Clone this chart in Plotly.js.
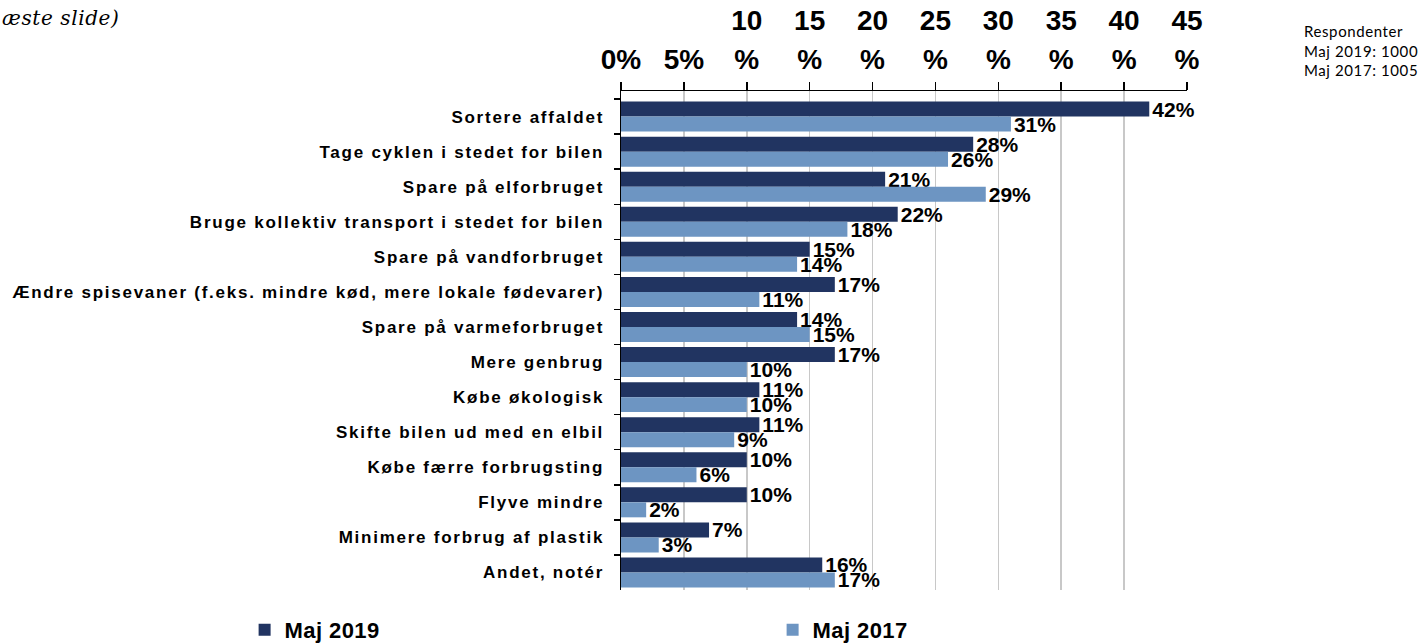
<!DOCTYPE html>
<html>
<head>
<meta charset="utf-8">
<script src="https://cdn.plot.ly/plotly-3.0.1.min.js"></script>
<style>
html, body { margin: 0; padding: 0; background: #fff; }
#chart { width: 1426px; height: 643px; }
.ytick text { letter-spacing: 1.75px; }
.annotation-text { letter-spacing: 0.6px; }
.legendtext { letter-spacing: 0.4px; }
</style>
</head>
<body>
<div id="chart"></div>
<script>
const categories = [
  "Sortere affaldet",
  "Tage cyklen i stedet for bilen",
  "Spare på elforbruget",
  "Bruge kollektiv transport i stedet for bilen",
  "Spare på vandforbruget",
  "Ændre spisevaner (f.eks. mindre kød, mere lokale fødevarer)",
  "Spare på varmeforbruget",
  "Mere genbrug",
  "Købe økologisk",
  "Skifte bilen ud med en elbil",
  "Købe færre forbrugsting",
  "Flyve mindre",
  "Minimere forbrug af plastik",
  "Andet, notér"
];
const maj2019 = [42, 28, 21, 22, 15, 17, 14, 17, 11, 11, 10, 10, 7, 16];
const maj2017 = [31, 26, 29, 18, 14, 11, 15, 10, 10, 9, 6, 2, 3, 17];
const tickVals = [0, 5, 10, 15, 20, 25, 30, 35, 40, 45];
// tick labels wrap: number on upper row, "%" on lower row (short ones on one row)
const tickLabelsLower = ["0%", "5%", "%", "%", "%", "%", "%", "%", "%", "%"];
const tickLabelsUpper = ["", "", "10", "15", "20", "25", "30", "35", "40", "45"];
const seriesNames = ["Maj 2019", "Maj 2017"];
const respondentText = "Respondenter<br>Maj 2019: 1000<br>Maj 2017: 1005";
const noteText = "æste slide)";

const arial = "Arial, 'Liberation Sans', sans-serif";
const labelFont = {family: arial, size: 21, color: "#000", weight: "bold"};
const tickFont = {family: arial, size: 28, color: "#000", weight: "bold"};

const traces = [
  {
    type: "bar", orientation: "h", name: seriesNames[0],
    y: categories, x: maj2019,
    marker: {color: "#213461"},
    text: maj2019.map(v => v + "%"), textposition: "outside",
    textfont: labelFont, constraintext: "none", cliponaxis: false,
    hoverinfo: "skip"
  },
  {
    type: "bar", orientation: "h", name: seriesNames[1],
    y: categories, x: maj2017,
    marker: {color: "#6D95C2"},
    text: maj2017.map(v => v + "%"), textposition: "outside",
    textfont: labelFont, constraintext: "none", cliponaxis: false,
    hoverinfo: "skip"
  },
  {
    type: "scatter", x: [], y: [], xaxis: "x2", yaxis: "y",
    showlegend: false, hoverinfo: "skip"
  }
];

const layout = {
  width: 1426, height: 643,
  margin: {l: 621, r: 239, t: 91, b: 53, pad: 0, autoexpand: false},
  paper_bgcolor: "#fff", plot_bgcolor: "#fff",
  barmode: "group", bargap: 0.145, bargroupgap: 0,
  showlegend: true,
  legend: {
    orientation: "h", xref: "paper", yref: "paper",
    x: -0.665, xanchor: "left", y: -0.08, yanchor: "middle",
    entrywidth: 483, entrywidthmode: "pixels",
    font: {family: arial, size: 22, color: "#000", weight: "bold"},
    traceorder: "normal", itemwidth: 30
  },
  xaxis: {
    side: "top", range: [0, 45], tickvals: tickVals, ticktext: tickLabelsLower,
    showgrid: true, gridcolor: "#C8C8C8", gridwidth: 1.5,
    showline: true, linecolor: "#000", linewidth: 1.5,
    ticks: "outside", ticklen: 8, tickcolor: "#000", tickwidth: 1.5,
    zeroline: false, fixedrange: true, automargin: false,
    tickfont: tickFont, ticklabelstandoff: 1
  },
  xaxis2: {
    side: "top", overlaying: "x", matches: "x", anchor: "y",
    range: [0, 45], tickvals: tickVals, ticktext: tickLabelsUpper,
    showgrid: false, showline: false, zeroline: false,
    ticks: "outside", ticklen: 8, tickcolor: "rgba(0,0,0,0)",
    fixedrange: true, automargin: false,
    tickfont: tickFont, ticklabelstandoff: 41
  },
  yaxis: {
    type: "category", range: [13.5, -0.73],
    showline: true, linecolor: "#000", linewidth: 1.5,
    ticks: "outside", tickson: "boundaries", ticklen: 6, tickcolor: "#000", tickwidth: 1.5,
    showgrid: false, zeroline: false, fixedrange: true, automargin: false,
    tickfont: {family: arial, size: 17, color: "#000", weight: "bold"},
    ticklabelstandoff: 12
  },
  annotations: [
    {
      xref: "paper", yref: "paper", x: -1.097, y: 1.146, xanchor: "left", yanchor: "middle",
      text: noteText, showarrow: false,
      font: {family: "'DejaVu Serif', serif", size: 20, color: "#000", style: "italic"}
    },
    {
      xref: "paper", yref: "paper", x: 1.204, y: 1.142, xanchor: "left", yanchor: "top",
      text: respondentText, showarrow: false, align: "left",
      font: {family: "Lato, 'Open Sans', sans-serif", size: 15, color: "#000"}
    }
  ]
};

Plotly.newPlot("chart", traces, layout, {displayModeBar: false, staticPlot: true});
</script>
</body>
</html>
